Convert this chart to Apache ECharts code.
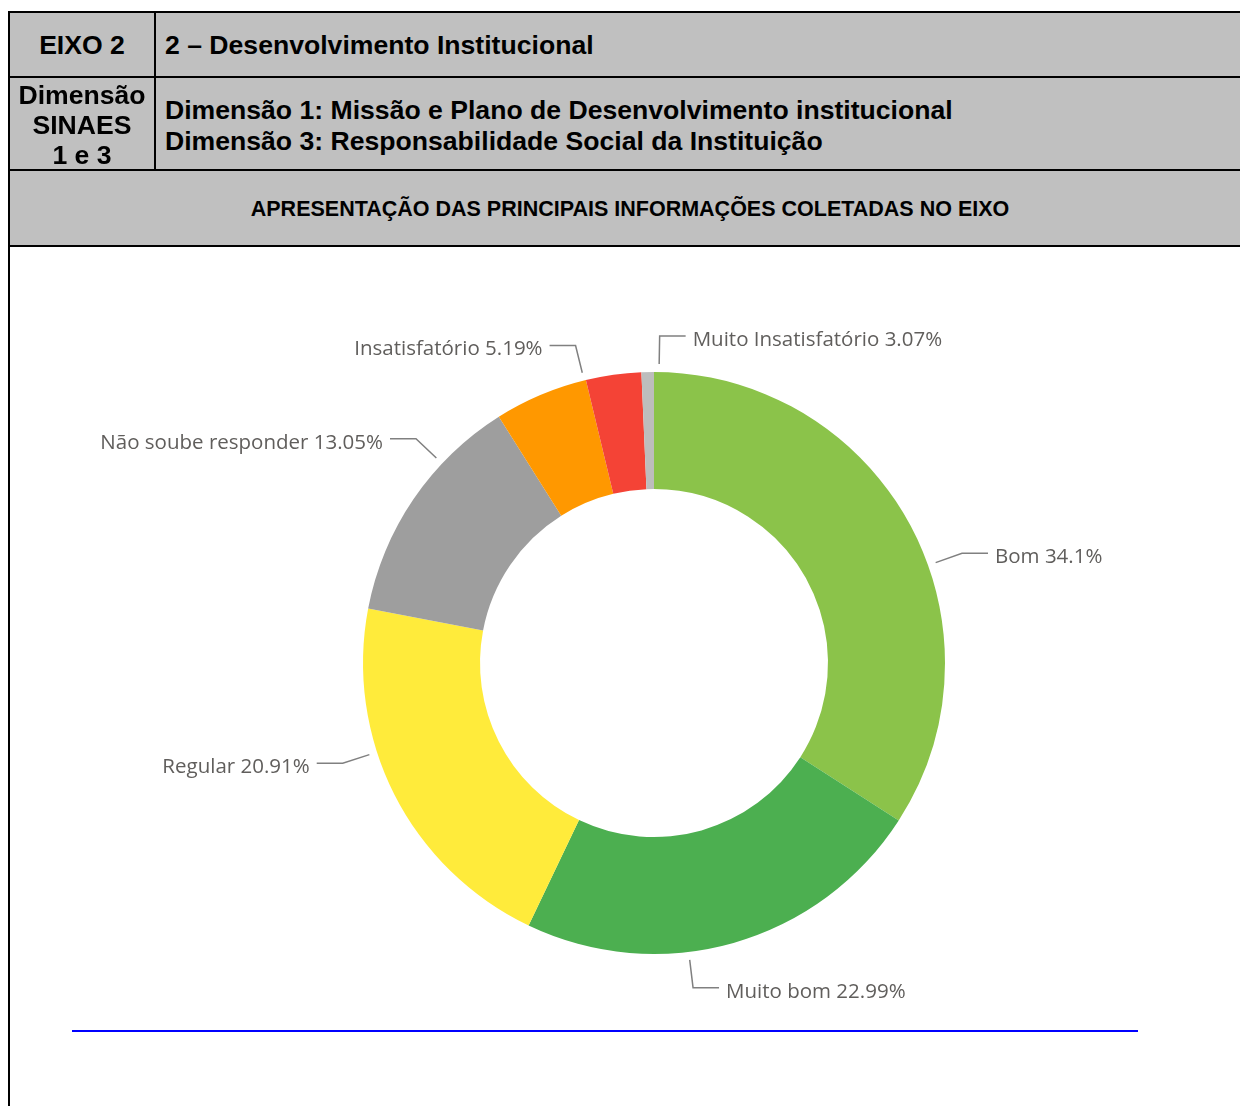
<!DOCTYPE html>
<html lang="pt-BR">
<head>
<meta charset="utf-8">
<title>Eixo 2 - Desenvolvimento Institucional</title>
<script src="https://cdn.jsdelivr.net/npm/echarts@6/dist/echarts.min.js"></script>
<style>
  html, body {
    margin: 0;
    padding: 0;
    background: #ffffff;
  }
  .page {
    position: relative;
    width: 1240px;
    height: 1106px;
    overflow: hidden;
    font-family: 'Liberation Sans', Arial, sans-serif;
    font-weight: bold;
    color: #000;
  }
  #chart {
    position: absolute;
    left: 0;
    top: 0;
    width: 1240px;
    height: 1106px;
  }
  .cell {
    position: absolute;
    box-sizing: border-box;
    background: #c0c0c0;
    display: flex;
    align-items: center;
  }
  .hline, .vline {
    position: absolute;
    background: #000;
  }
  .hline { height: 2px; }
  .vline { width: 2px; }
  .blue-rule {
    position: absolute;
    left: 72px;
    top: 1030px;
    width: 1066px;
    height: 2px;
    background: #0000ff;
  }
</style>
</head>
<body>
<div class="page">
  <div id="chart"></div>

  <div class="cell" style="left:10px;top:13px;width:144px;height:63px;justify-content:center;font-size:26.6px;padding-top:2px;">EIXO 2</div>
  <div class="cell" style="left:156px;top:13px;width:1100px;height:63px;padding-left:9px;font-size:26.6px;padding-top:2px;">2 – Desenvolvimento Institucional</div>

  <div class="cell" style="left:10px;top:78px;width:144px;height:91px;justify-content:center;text-align:center;font-size:26.6px;line-height:30px;padding-top:3px;">Dimensão<br>SINAES<br>1 e 3</div>
  <div class="cell" style="left:156px;top:78px;width:1100px;height:91px;padding-left:9px;font-size:26.6px;line-height:31px;padding-top:5px;">Dimensão 1: Missão e Plano de Desenvolvimento institucional<br>Dimensão 3: Responsabilidade Social da Instituição</div>

  <div class="cell" style="left:10px;top:171px;width:1240px;height:74px;justify-content:center;font-size:21.5px;padding-top:3px;">APRESENTAÇÃO DAS PRINCIPAIS INFORMAÇÕES COLETADAS NO EIXO</div>

  <div class="hline" style="left:8px;top:11px;width:1240px;"></div>
  <div class="hline" style="left:8px;top:76px;width:1240px;"></div>
  <div class="hline" style="left:8px;top:169px;width:1240px;"></div>
  <div class="hline" style="left:8px;top:245px;width:1240px;"></div>
  <div class="vline" style="left:8px;top:11px;height:1100px;"></div>
  <div class="vline" style="left:154px;top:11px;height:160px;"></div>

  <div class="blue-rule"></div>
</div>

<script>
// respostas do eixo 2 (percentual)
const categories = ['Bom', 'Muito bom', 'Regular', 'Não soube responder', 'Insatisfatório', 'Muito Insatisfatório', 'Não respondeu']
const percentages = [34.1, 22.99, 20.91, 13.05, 5.19, 3.07, 0.69]
const labelled = [true, true, true, true, true, true, false]

const SLICE_COLORS = ['#8bc34a', '#4caf50', '#ffeb3b', '#9e9e9e', '#ff9800', '#f44336', '#bdbdbd']

let chart = echarts.init(document.getElementById('chart'))

let sliceData = categories.map((name, i) => ({
  name: name,
  value: percentages[i],
  itemStyle: { color: SLICE_COLORS[i] }
}))

// the labels in the original sit a little clockwise of the slice centres,
// so they come from a second, invisible ring turned by a few degrees
let labelData = categories.map((name, i) => ({
  name: name,
  value: percentages[i],
  label: { show: labelled[i] },
  labelLine: { show: labelled[i] }
}))

chart.setOption({
  backgroundColor: '#ffffff',
  animation: false,
  series: [
    {
      type: 'pie',
      center: [654, 663],
      radius: [174, 291],
      startAngle: 90,
      clockwise: true,
      silent: true,
      label: { show: false },
      labelLine: { show: false },
      itemStyle: { borderWidth: 0 },
      data: sliceData
    },
    {
      type: 'pie',
      center: [654, 663],
      radius: [292, 299],
      startAngle: 81,
      clockwise: true,
      silent: true,
      avoidLabelOverlap: false,
      itemStyle: { color: 'rgba(0,0,0,0)', borderWidth: 0 },
      label: {
        show: true,
        position: 'outside',
        formatter: p => p.name + ' ' + p.value + '%',
        color: '#605e5c',
        fontFamily: 'Open Sans',
        fontSize: 20.5,
        distanceToLabelLine: 7
      },
      labelLayout: { dy: 4 },
      labelLine: {
        show: true,
        length: 28,
        length2: 26,
        smooth: false,
        lineStyle: { color: '#808080', width: 1.5 }
      },
      data: labelData
    }
  ]
})
</script>
</body>
</html>
